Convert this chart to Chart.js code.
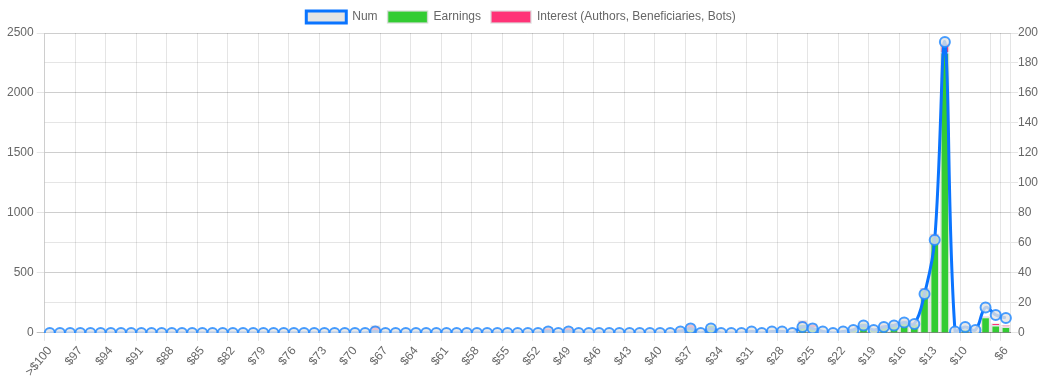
<!DOCTYPE html>
<html lang="en">
<head>
  <meta charset="UTF-8" />
  <title>Price distribution</title>
  <script src="https://cdn.jsdelivr.net/npm/chart.js"></script>
  <style>
    body { margin: 0; background: #fff; }
    #wrap { width: 1047px; height: 387px; }
  </style>
</head>
<body>
  <div id="wrap"><canvas id="chart"></canvas></div>

  <script>
    const labels = ['>$100', '$99', '$98', '$97', '$96', '$95', '$94', '$93', '$92', '$91',
      '$90', '$89', '$88', '$87', '$86', '$85', '$84', '$83', '$82', '$81',
      '$80', '$79', '$78', '$77', '$76', '$75', '$74', '$73', '$72', '$71',
      '$70', '$69', '$68', '$67', '$66', '$65', '$64', '$63', '$62', '$61',
      '$60', '$59', '$58', '$57', '$56', '$55', '$54', '$53', '$52', '$51',
      '$50', '$49', '$48', '$47', '$46', '$45', '$44', '$43', '$42', '$41',
      '$40', '$39', '$38', '$37', '$36', '$35', '$34', '$33', '$32', '$31',
      '$30', '$29', '$28', '$27', '$26', '$25', '$24', '$23', '$22', '$21',
      '$20', '$19', '$18', '$17', '$16', '$15', '$14', '$13', '$12', '$11',
      '$10', '$9', '$8', '$7', '$6'];

    // count of items per price bin (right axis)
    const num = [0, 0, 0, 0, 0, 0, 0, 0, 0, 0,
      0, 0, 0, 0, 0, 0, 0, 0, 0, 0,
      0, 0, 0, 0, 0, 0, 0, 0, 0, 0,
      0, 0, 1, 0, 0, 0, 0, 0, 0, 0,
      0, 0, 0, 0, 0, 0, 0, 0, 0, 1,
      0, 1, 0, 0, 0, 0, 0, 0, 0, 0,
      0, 0, 1, 3, 0, 3, 0, 0, 0, 1,
      0, 1, 1, 0, 4, 3, 1, 0, 1, 2,
      5, 2, 4, 5, 7, 6, 26, 62, 194, 1,
      4, 2, 17, 12, 10];

    // left axis, stacked
    const earnings = [0, 0, 0, 0, 0, 0, 0, 0, 0, 0,
      0, 0, 0, 0, 0, 0, 0, 0, 0, 0,
      0, 0, 0, 0, 0, 0, 0, 0, 0, 0,
      0, 0, 0, 0, 0, 0, 0, 0, 0, 0,
      0, 0, 0, 0, 0, 0, 0, 0, 0, 0,
      0, 0, 0, 0, 0, 0, 0, 0, 0, 0,
      0, 0, 0, 35, 0, 73, 0, 0, 0, 0,
      0, 0, 15, 0, 78, 50, 24, 0, 22, 40,
      90, 38, 60, 86, 100, 85, 364, 810, 2340, 11,
      39, 12, 134, 67, 54];

    const interest = [0, 0, 0, 0, 0, 0, 0, 0, 0, 0,
      0, 0, 0, 0, 0, 0, 0, 0, 0, 0,
      0, 0, 0, 0, 0, 0, 0, 0, 0, 0,
      0, 0, 64, 0, 0, 0, 0, 0, 0, 0,
      0, 0, 0, 0, 0, 0, 0, 0, 0, 50,
      0, 52, 0, 0, 0, 0, 0, 0, 0, 0,
      0, 0, 42, 43, 0, 0, 0, 0, 0, 30,
      0, 25, 10, 0, 28, 31, 0, 0, 0, 0,
      0, 0, 12, 0, 5, 10, 10, 18, 80, 0,
      0, 6, 4, 14, 13];

    Chart.defaults.font.family = "Arial, 'Liberation Sans', sans-serif";
    Chart.defaults.font.size = 12;
    Chart.defaults.color = '#666';

    const gridColor = 'rgba(0,0,0,0.1)';
    const lastIdx = labels.length - 1;

    new Chart(document.getElementById('chart'), {
      type: 'bar',
      data: {
        labels: labels,
        datasets: [
          {
            type: 'line',
            label: 'Num',
            data: num,
            yAxisID: 'y1',
            borderColor: '#0a74ff',
            backgroundColor: 'rgba(225,225,225,0.9)',
            borderWidth: 3,
            fill: false,
            tension: 0.4,
            pointRadius: 5,
            pointBorderWidth: 2,
            pointBorderColor: 'rgba(40,140,255,0.85)',
            pointBackgroundColor: 'rgba(228,228,228,0.8)'
          },
          {
            label: 'Earnings',
            data: earnings,
            yAxisID: 'y',
            stack: 'money',
            backgroundColor: '#33cc33',
            borderColor: 'rgba(220,220,220,0.8)',
            borderWidth: 1.5,
            barPercentage: 1,
            categoryPercentage: 0.95
          },
          {
            label: 'Interest (Authors, Beneficiaries, Bots)',
            data: interest,
            yAxisID: 'y',
            stack: 'money',
            backgroundColor: '#ff3377',
            borderColor: 'rgba(220,220,220,0.8)',
            borderWidth: 1.5,
            barPercentage: 1,
            categoryPercentage: 0.95
          }
        ]
      },
      options: {
        animation: false,
        responsive: true,
        maintainAspectRatio: false,
        layout: { padding: { top: 1, right: 9, bottom: 5, left: 4 } },
        plugins: {
          legend: {
            position: 'top',
            labels: { boxWidth: 40, boxHeight: 12 }
          },
          tooltip: { enabled: false }
        },
        scales: {
          x: {
            stacked: true,
            grid: {
              offset: true,
              color: ctx => (ctx.index !== undefined && (ctx.index % 3 === 0 || ctx.index === lastIdx)) ? gridColor : 'transparent'
            },
            border: { color: 'rgba(0,0,0,0.25)' },
            ticks: {
              autoSkip: false,
              minRotation: 50,
              maxRotation: 50,
              callback: (val, i) => (i % 3 === 0 && i + 3 < labels.length) || i === lastIdx ? labels[i] : ''
            }
          },
          y: {
            position: 'left',
            stacked: true,
            min: 0,
            max: 2500,
            ticks: { stepSize: 500, callback: v => String(v) },
            grid: { color: ctx => ctx.tick && ctx.tick.value === 0 ? 'rgba(0,0,0,0.25)' : gridColor },
            border: { color: gridColor }
          },
          y1: {
            position: 'right',
            min: 0,
            max: 200,
            ticks: { stepSize: 20, padding: 0, callback: v => String(v) },
            grid: { color: gridColor, tickLength: 7 },
            border: { color: gridColor }
          }
        }
      }
    });
  </script>
</body>
</html>
